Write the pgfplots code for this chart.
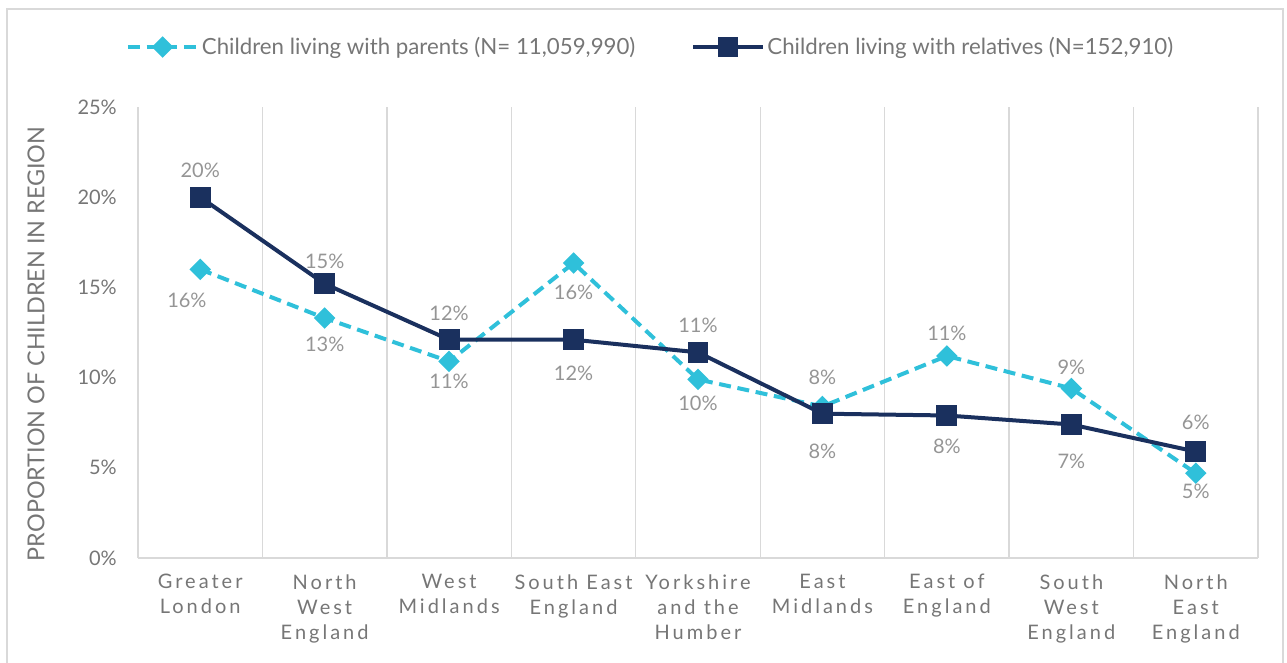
\documentclass[border=0pt]{standalone}
\usepackage{fontspec}
\setmainfont{Lato}
\newfontfamily\spacedfont[LetterSpace=15]{Lato}
\usepackage{pgfplots}
\usepackage{pgfplotstable}
\pgfplotsset{compat=1.18}
\definecolor{cyanl}{HTML}{2FC0DA}
\definecolor{navy}{HTML}{1A305E}
\definecolor{tickgray}{HTML}{767676}
\definecolor{labgray}{HTML}{959595}
\definecolor{gridgray}{HTML}{D9D9D9}

\pgfplotstableread{
x y off xoff
0 16.0 -23 -10
1 13.3 -20 0
2 10.9 -15 0
3 16.35 -22 0
4 9.9 -18 0
5 8.4 22 0
6 11.2 17 0
7 9.4 16 0
8 4.7 -13.5 0
}\parents

\pgfplotstableread{
x y off xoff
0 20.0 20 0
1 15.2 16.5 0
2 12.1 19.5 0
3 12.1 -25.5 0
4 11.4 20 0
5 8.0 -28 0
6 7.9 -23 0
7 7.4 -28 0
8 5.9 22 0
}\relatives

\begin{document}
\begin{tikzpicture}
\useasboundingbox (0,0) rectangle (965.25pt,496.5pt);
\draw[gridgray, line width=1.5pt] (5.25pt,-2pt) -- (5.25pt,489.75pt) -- (962.25pt,489.75pt) -- (962.25pt,-2pt);
\begin{axis}[
  at={(103.5pt,78pt)}, anchor=south west,
  scale only axis, width=840pt, height=338.25pt,
  xmin=-0.5, xmax=8.5, ymin=0, ymax=25,
  clip=false,
  axis line style={draw=none},
  xtick={0,1,2,3,4,5,6,7,8},
  xticklabels={Greater\\London, North\\West\\England, West\\Midlands, South East\\England, Yorkshire\\and the\\Humber, East\\Midlands, East of\\England, South\\West\\England, North\\East\\England},
  minor xtick={-0.5,0.5,1.5,2.5,3.5,4.5,5.5,6.5,7.5,8.5},
  xminorgrids, minor grid style={gridgray, line width=1pt},
  ytick={0,5,10,15,20,25},
  /pgf/number format/assume math mode=true,
  yticklabel={\pgfmathprintnumber{\tick}\%},
  major tick length=0pt, minor tick length=0pt,
  tick style={draw=none},
  yticklabel style={anchor=east, inner sep=0pt, xshift=-15.75pt, font=\fontsize{15}{18}\selectfont, text=tickgray},
  xticklabel style={anchor=north, align=center, inner sep=0pt, yshift=-12pt, font=\spacedfont\fontsize{15}{18.75}\selectfont, text=tickgray},
  ylabel={PROPORTION OF CHILDREN IN REGION},
  every axis y label/.style={at={(axis description cs:-0.091,0.4745)}, rotate=90, anchor=center, font=\fontsize{17.5}{20}\selectfont, text=tickgray},
  legend columns=2,
  legend style={at={(axis description cs:0.458,1.133)}, anchor=center, draw=none, fill=none,
    font=\fontsize{16.7}{20}\selectfont, text=tickgray,
    /tikz/every even column/.append style={column sep=40pt}},
  legend image code/.code={\draw[#1, mark repeat=2, mark phase=2] plot coordinates {(0pt,0pt) (26pt,0pt) (52pt,0pt)};},
]
\draw[gridgray, line width=1pt] (rel axis cs:0,0) -- (rel axis cs:1,0);
\addplot[color=cyanl, line width=3pt, dash pattern=on 9pt off 5pt, mark=square*, mark size=4.2pt, mark options={solid, rotate=45},
  point meta=y,
  nodes near coords={\pgfmathprintnumber[fixed,precision=0]{\pgfplotspointmeta}\%},
  visualization depends on={\thisrow{off} \as \offy},
  visualization depends on={\thisrow{xoff} \as \offx},
  every node near coord/.append style={anchor=center, yshift=\offy pt, xshift=\offx pt, font=\fontsize{15}{18}\selectfont, text=labgray},
] table[x=x, y=y] {\parents};
\addlegendentry{Children living with parents (N= 11,059,990)}
\addplot[color=navy, line width=3pt, mark=square*, mark size=6.3pt, mark options={solid},
  point meta=y,
  nodes near coords={\pgfmathprintnumber[fixed,precision=0]{\pgfplotspointmeta}\%},
  visualization depends on={\thisrow{off} \as \offy},
  visualization depends on={\thisrow{xoff} \as \offx},
  every node near coord/.append style={anchor=center, yshift=\offy pt, xshift=\offx pt, font=\fontsize{15}{18}\selectfont, text=labgray},
] table[x=x, y=y] {\relatives};
\addlegendentry{Children living with relatives (N=152,910)}
\end{axis}
\end{tikzpicture}
\end{document}
